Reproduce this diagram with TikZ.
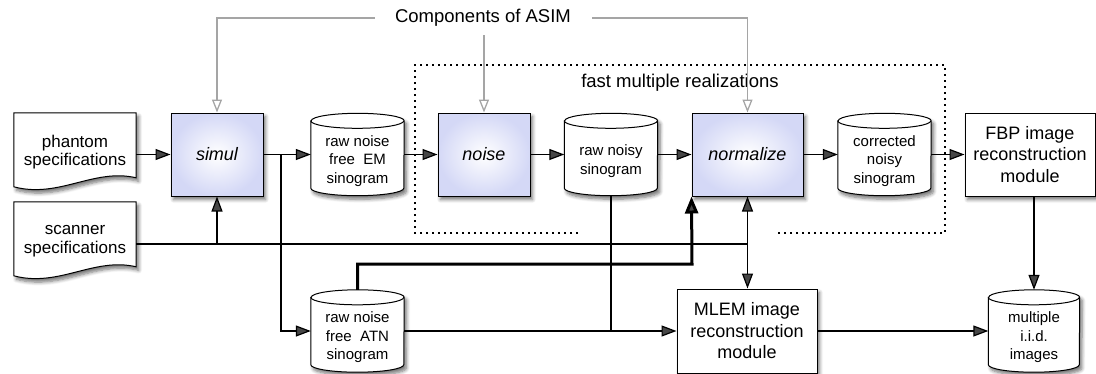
\documentclass[tikz,border=0pt]{standalone}
\usepackage{fontspec}
\setmainfont{Liberation Sans}
\usetikzlibrary{arrows.meta,calc,backgrounds,shadows.blur}

\definecolor{procfill}{RGB}{212,216,246}
\definecolor{asimgray}{RGB}{165,165,165}

\tikzset{
  softshadow/.style={blur shadow={shadow xshift=2.5pt, shadow yshift=-3.5pt,
      shadow blur radius=3.5pt, shadow opacity=55, shadow blur steps=6}},
  procbox/.style={draw, line width=1pt, minimum width=92pt, minimum height=83pt,
      inner sep=0pt, inner color=white, outer color=procfill, softshadow,
      font=\fontsize{18}{21.5}\selectfont\itshape},
  modbox/.style={draw, line width=1pt, fill=white, inner sep=0pt, softshadow,
      align=center, font=\fontsize{18}{21.5}\selectfont},
  docbox/.style={minimum width=122pt, minimum height=78pt, inner sep=0pt,
      align=center, font=\fontsize{17}{18.5}\selectfont},
  cylbox/.style={minimum width=93pt, minimum height=82pt, inner sep=0pt},
  cyltext/.style={align=center, yshift=-6.5pt, font=\fontsize{15}{18.5}\selectfont},
  docshape/.style={draw, line width=1pt, fill=white, softshadow},
  cylshape/.style={draw, line width=1pt, fill=white, softshadow},
  flow/.style={line width=1.2pt, -{Triangle[length=15pt,width=11pt]}},
  wire/.style={line width=1.2pt},
  boldflow/.style={line width=3pt, -{Triangle[length=17pt,width=13pt]}},
  twoway/.style={line width=1.2pt, {Triangle[length=15pt,width=11pt]}-{Triangle[length=15pt,width=11pt]}},
  asimlink/.style={draw=asimgray, line width=1.3pt,
      -{Triangle[open,length=13pt,width=10pt,line width=1.3pt]}},
  fastframe/.style={line width=1.6pt, dash pattern=on 1.6pt off 4.4pt},
  caption/.style={font=\fontsize{18.5}{21}\selectfont}
}

\begin{document}
\begin{tikzpicture}[x=1pt,y=1pt]
\useasboundingbox (0,0) rectangle (1096,-373);

% frame around the parts that are repeated for every realization
\draw[fastframe] (578,-233) -- (415,-233) -- (415,-65) -- (945,-65) -- (945,-233) -- (777,-233);
\node[caption] (fastlbl) at (680,-83) {fast multiple realizations};

% input documents
\node[docbox] (phantom) at (75,-152) {phantom\\specifications};
\node[docbox] (scanner) at (75,-241) {scanner\\specifications};

% ASIM components
\node[procbox] (simul) at (217,-154.5) {simul};
\node[procbox] (noise) at (484,-154.5) {noise};
\node[procbox, minimum width=111pt] (normalize) at (747.5,-154.5) {normalize};

% reconstruction modules
\node[modbox, minimum width=130pt, minimum height=83pt] (fbp) at (1030,-154.5)
  {FBP image\\reconstruction\\module};
\node[modbox, minimum width=140pt, minimum height=84pt] (mlem) at (747,-331)
  {MLEM image\\reconstruction\\module};

% data stores
\node[cylbox, label={[cyltext]center:raw noise\\free~ EM\\sinogram}] (em) at (357.5,-154.5) {};
\node[cylbox, label={[cyltext]center:raw noisy\\sinogram}] (noisy) at (611,-154.5) {};
\node[cylbox, label={[cyltext]center:corrected\\noisy\\sinogram}] (corr) at (884.5,-154.5) {};
\node[cylbox, label={[cyltext]center:raw noise\\free~ ATN\\sinogram}] (atn) at (357.5,-331) {};
\node[cylbox, minimum width=91pt, label={[cyltext]center:multiple\\i.i.d.\\images}] (imgs) at (1034,-331) {};

\node[caption] (asim) at (483,-18) {Components of ASIM};

\begin{pgfonlayer}{background}
  % document outlines with a wavy lower edge
  \foreach \d in {phantom,scanner}{
    \path[docshape] (\d.north west) -- ($(\d.north west)+(0,-74)$)
      .. controls ($(\d.north west)+(45,-86)$) and ($(\d.north west)+(80,-55)$)
      .. ($(\d.north east)+(0,-65)$) -- (\d.north east) -- cycle;
  }
  % cylinder outlines
  \foreach \c/\r in {em/46.5,noisy/46.5,corr/46.5,atn/46.5,imgs/45.5}{
    \path[cylshape] ($(\c.north west)+(0,-7.5)$) -- ($(\c.south west)+(0,7.5)$)
      arc[start angle=180, end angle=360, x radius=\r, y radius=7.5]
      -- ($(\c.north east)+(0,-7.5)$)
      arc[start angle=0, end angle=180, x radius=\r, y radius=7.5] -- cycle;
    \draw[line width=1pt] ($(\c.north west)+(0,-7.5)$)
      arc[start angle=180, end angle=360, x radius=\r, y radius=7.5];
  }
\end{pgfonlayer}

% links from the caption to the ASIM components
\draw[asimlink] ($(asim.west)+(-17,0)$) -| (simul.north);
\draw[asimlink] ($(asim.south)+(1,-5)$) -- (noise.north);
\draw[asimlink] ($(asim.east)+(18,0)$) -| (normalize.north);

% main data flow
\draw[flow] (phantom.east |- simul.west) -- (simul.west);
\draw[flow] (simul.east) -- (em.west);
\coordinate (split) at (281,-154.5);
\draw[flow] (split) |- (atn.west);
\draw[flow] (em.east) -- (noise.west);
\draw[flow] (noise.east) -- (noisy.west);
\draw[flow] (noisy.east) -- (normalize.west);
\draw[flow] (normalize.east) -- (corr.west);
\draw[flow] (corr.east) -- (fbp.west);

% scanner specifications feed
\coordinate (sc) at (136,-244);
\draw[wire] (sc) -- (sc -| normalize.south);
\draw[flow] (sc -| simul.south) -- (simul.south);

% attenuation sinogram to the normalization step
\coordinate (atnturn) at (692,-264);
\draw[boldflow] (atn.north) |- (atnturn) -- (normalize.south west);

% MLEM branch
\draw[twoway] (normalize.south) -- (normalize.south |- mlem.north);
\draw[wire] (noisy.south) -- (noisy.south |- atn.east);
\draw[flow] (atn.east) -- (mlem.west);
\draw[flow] (mlem.east) -- (imgs.west);
\draw[flow] (fbp.south -| imgs.north) -- (imgs.north);
\end{tikzpicture}
\end{document}
